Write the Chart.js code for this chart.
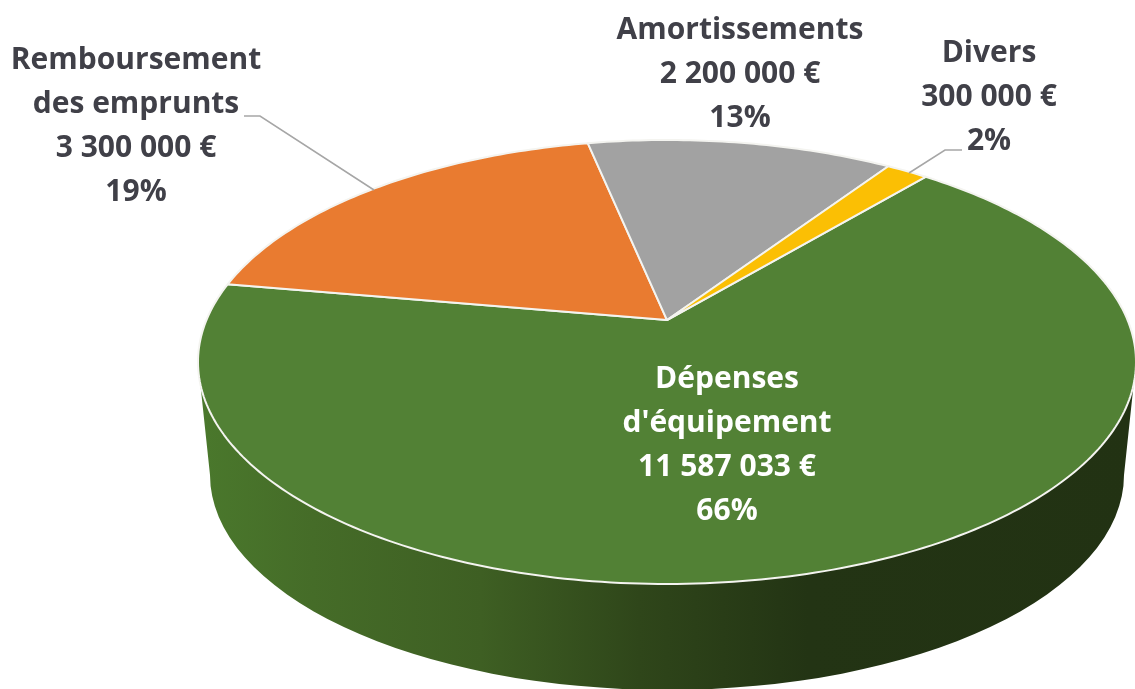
<!DOCTYPE html>
<html lang="fr">
  <head>
    <meta charset="UTF-8">
    <script src="https://cdn.jsdelivr.net/npm/chart.js@4"></script>
    <style>
      html, body { margin: 0; background: #FFFFFF; }
      #wrap { width: 1135px; height: 689px; overflow: hidden; }
      #budget { display: block; filter: blur(0.7px); }
    </style>
  </head>
  <body>
    <div id="wrap"><canvas id="budget" width="1135" height="689"></canvas></div>
    <script>
      // Valeurs
      const categories = [["Dépenses", "d'équipement"], ["Remboursement", "des emprunts"], ["Amortissements"], ["Divers"]];
      const amounts = [11587033, 3300000, 2200000, 300000];
      const percents = ["66%", "19%", "13%", "2%"];
      const colors = ['#528135', '#E97B30', '#A2A2A2', '#FBBF04'];

      // Position du texte : x du centre, y de la premiere ligne
      const labelPos = [[727, 379], [136, 60], [740, 30], [989, 53]];
      const labelColors = ['#FFFFFF', '#404048', '#404048', '#404048'];
      const leaders = [null, [[244, 116], [260, 116], [374, 190]], null, [[962, 150], [945, 150], [909, 173]]];

      // Ellipse du dessus et de la base
      const top3d = { x: 667, y: 362, rx: 469, ry: 222 };
      const base3d = { x: 667, y: 475, rx: 457, ry: 215 };
      const tilt = -0.189; // deplace le sommet des parts vers l'arriere (perspective)

      function project(a) {
        const u = Math.cos(a), v = Math.sin(a);
        const d = 1 + tilt * v;
        return [
          top3d.x + top3d.rx * u * Math.sqrt(1 - tilt * tilt) / d,
          top3d.y + top3d.ry * (v + tilt) / d
        ];
      }

      function fmt(n) {
        return String(n).replace(/\B(?=(\d{3})+$)/g, ' ') + ' €';
      }

      const pie3d = {
        id: 'pie3d',
        beforeDatasetsDraw(chart) {
          const ctx = chart.ctx;
          const ds = chart.data.datasets[0];

          // paroi du cylindre
          const g = ctx.createLinearGradient(200, 0, 1135, 0);
          g.addColorStop(0, '#4A782C');
          g.addColorStop(0.12, '#456C28');
          g.addColorStop(0.3, '#3E5F23');
          g.addColorStop(0.47, '#2F461A');
          g.addColorStop(0.65, '#233414');
          g.addColorStop(1, '#223213');
          ctx.save();
          ctx.beginPath();
          ctx.moveTo(top3d.x - top3d.rx, top3d.y);
          ctx.lineTo(base3d.x - base3d.rx, base3d.y);
          ctx.ellipse(base3d.x, base3d.y, base3d.rx, base3d.ry, 0, Math.PI, 0, true);
          ctx.lineTo(top3d.x + top3d.rx, top3d.y);
          ctx.closePath();
          ctx.fillStyle = g;
          ctx.fill();

          // parts : angles calcules par Chart.js, projetes sur le dessus
          chart.getDatasetMeta(0).data.forEach((arc, i) => {
            ctx.beginPath();
            ctx.moveTo(top3d.x, top3d.y + top3d.ry * tilt);
            const steps = Math.ceil((arc.endAngle - arc.startAngle) * 60);
            for (let s = 0; s <= steps; s++) {
              const p = project(arc.startAngle + (arc.endAngle - arc.startAngle) * s / steps);
              ctx.lineTo(p[0], p[1]);
            }
            ctx.closePath();
            ctx.fillStyle = ds.backgroundColor[i];
            ctx.fill();
            ctx.strokeStyle = ds.borderColor;
            ctx.lineWidth = ds.borderWidth;
            ctx.lineJoin = 'round';
            ctx.stroke();
          });
          ctx.restore();
          return false;
        },
        afterDraw(chart) {
          const ctx = chart.ctx;
          ctx.save();
          leaders.forEach(line => {
            if (!line) return;
            ctx.beginPath();
            line.forEach((p, k) => k ? ctx.lineTo(p[0], p[1]) : ctx.moveTo(p[0], p[1]));
            ctx.strokeStyle = '#A6A6A6';
            ctx.lineWidth = 1.5;
            ctx.stroke();
          });
          ctx.font = '700 30px "Open Sans", sans-serif';
          ctx.textAlign = 'center';
          ctx.textBaseline = 'middle';
          categories.forEach((name, i) => {
            const lines = name.concat([fmt(amounts[i]), percents[i]]);
            ctx.fillStyle = labelColors[i];
            lines.forEach((t, k) => {
              ctx.fillText(t, labelPos[i][0], labelPos[i][1] + k * 44.3);
            });
          });
          ctx.restore();
        }
      };

      new Chart(document.getElementById('budget'), {
        type: 'pie',
        data: {
          labels: categories,
          datasets: [{
            data: amounts,
            backgroundColor: colors,
            borderColor: '#F4F4F0',
            borderWidth: 2
          }]
        },
        options: {
          responsive: false,
          animation: false,
          rotation: 40,
          plugins: {
            legend: { display: false },
            tooltip: { enabled: false }
          }
        },
        plugins: [pie3d]
      });
    </script>
  </body>
</html>
